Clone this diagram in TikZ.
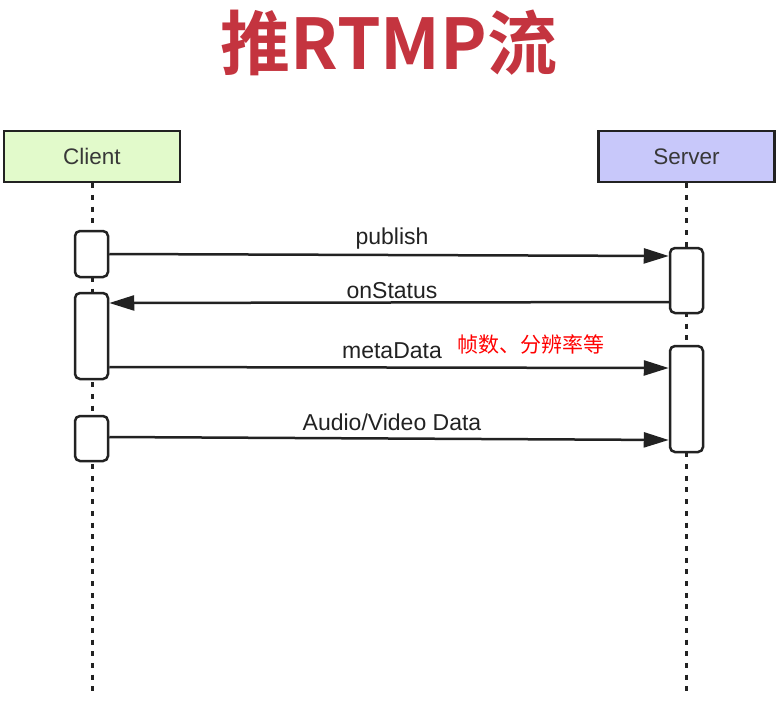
\documentclass[tikz,border=0pt]{standalone}
\usepackage{fontspec}
\setmainfont{Liberation Sans}
\newfontfamily\cjk{Noto Sans CJK SC}
\newfontfamily\cjkbold{Noto Sans CJK SC Bold}
\usetikzlibrary{arrows.meta}
\definecolor{titlered}{HTML}{C4343F}
\definecolor{clientgreen}{HTML}{E2FACB}
\definecolor{serverblue}{HTML}{C8C8FA}
\definecolor{ink}{HTML}{222222}
\begin{document}
\begin{tikzpicture}[x=1pt,y=-1pt,
  actor/.style={draw=ink,line width=2.5pt,minimum width=176pt,minimum height=51pt,inner sep=0pt,font=\fontsize{22.5}{26}\selectfont,text=ink!90},
  act/.style={draw=ink,line width=2.5pt,rounded corners=5pt,fill=white,minimum width=33pt,inner sep=0pt},
  life/.style={ink,line width=3pt,dash pattern=on 5pt off 6.7pt},
  msg/.style={ink,line width=2.5pt,-{Triangle[length=25pt,width=15pt]}},
  lbl/.style={font=\fontsize{23}{26}\selectfont,text=ink,inner sep=0pt},
  ]
\useasboundingbox (0,0) rectangle (784,725);
\node[font=\cjkbold\fontsize{70}{72}\selectfont,text=titlered] (title) at (389,43) {推RTMP流};
\node[actor,fill=clientgreen] (client) at (92,156.5) {Client};
\node[actor,fill=serverblue] (server) at (686.5,156.5) {Server};
\coordinate (cend) at (92,695);
\coordinate (send) at (686.5,695);
\draw[life] (client.south) -- (cend);
\draw[life] (server.south) -- (send);
% activations
\node[act,minimum height=46pt] (c1) at (91.5,254) {};
\node[act,minimum height=86pt] (c2) at (91.5,336) {};
\node[act,minimum height=45pt] (c3) at (91.5,438.5) {};
\node[act,minimum height=65pt] (s1) at (686.5,280.5) {};
\node[act,minimum height=106pt] (s2) at (686.5,399) {};
% messages
\coordinate (p1) at (c1.east);
\coordinate (p2) at ([yshift=-2pt]s1.west|-c1.east);
\draw[msg] (p1) -- (p2);
\node[lbl] (l1) at (392,239) {publish};
\coordinate (o1) at ([yshift=-21.5pt]s1.west);
\coordinate (o2) at ([yshift=33pt]c2.east);
\draw[msg] (o1) -- (o2);
\node[lbl] (l2) at (392,291) {onStatus};
\coordinate (m1) at ([yshift=-31pt]c2.east);
\coordinate (m2) at ([yshift=31pt]s2.west);
\draw[msg] (m1) -- (m2);
\node[lbl] (l3) at (392,351) {metaData};
\node[font=\cjk\fontsize{21}{24}\selectfont,text=red,inner sep=0pt,anchor=west] (note) at (457,344) {帧数、分辨率等};
\coordinate (a1) at ([yshift=1.5pt]c3.east);
\coordinate (a2) at ([yshift=-41pt]s2.west);
\draw[msg] (a1) -- (a2);
\node[lbl] (l4) at (392,422) {Audio/Video Data};
\end{tikzpicture}
\end{document}
